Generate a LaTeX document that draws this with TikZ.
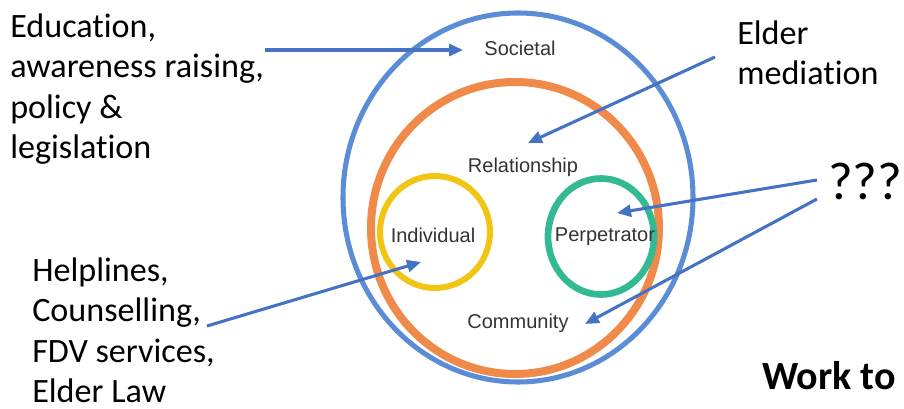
\documentclass[tikz,border=0pt]{standalone}
\usepackage{fontspec}
\usetikzlibrary{arrows.meta}
\newfontfamily\calfont[Ligatures=NoCommon]{Carlito}
\newfontfamily\arialfont{Liberation Sans}
\definecolor{arrowblue}{HTML}{4472C4}
\definecolor{ringblue}{HTML}{5B8DD6}
\definecolor{ringorange}{HTML}{F08A4B}
\definecolor{ringyellow}{HTML}{F2C413}
\definecolor{ringgreen}{HTML}{34BA92}
\definecolor{labelgray}{HTML}{333333}
\tikzset{
  bigtext/.style={inner sep=0pt, anchor=base west, align=left, font=\calfont\fontsize{25.6}{30.4}\selectfont},
  ringlabel/.style={inner sep=0pt, text=labelgray, font=\arialfont\fontsize{15}{18}\selectfont},
  pointer/.style={draw=arrowblue, line width=2.3pt, -{Triangle[length=10.5pt,width=9pt]}},
}
\begin{document}
\begin{tikzpicture}[x=0.75pt,y=-0.75pt]
\useasboundingbox (0,0) rectangle (904,409);
% rings
\draw[ringblue, line width=3.8pt] (518,197.5) ellipse [x radius=175, y radius=184.5];
\draw[ringorange, line width=6pt] (515,228) ellipse [x radius=144, y radius=146];
\draw[ringyellow, line width=4.5pt] (435,232) ellipse [x radius=55, y radius=56];
\draw[ringgreen, line width=5pt] (601,236.5) ellipse [x radius=53, y radius=58];
% ring labels
\node[ringlabel] (soc) at (520,48) {Societal};
\node[ringlabel] (rel) at (523,167) {Relationship};
\node[ringlabel] (ind) at (433,235) {Individual};
\node[ringlabel] (per) at (605,237) {Perpetrator};
\node[ringlabel] (com) at (518,323) {Community};
% side texts (base = last line's baseline)
\node[bigtext] (edu) at (10,159) {Education,\\awareness raising,\\policy \&\\legislation};
\node[bigtext] (eld) at (737,85) {Elder\\mediation};
\node[inner sep=0pt, anchor=base west, font=\calfont\fontsize{40}{48}\selectfont] (qqq) at (828,200) {???};
\node[bigtext] (hlp) at (32,403) {Helplines,\\Counselling,\\FDV services,\\Elder Law};
\node[inner sep=0pt, anchor=base west, font=\calfont\bfseries\fontsize{30}{36}\selectfont] (wrk) at (762,390) {Work to};
% connector ends
\coordinate (eduS) at (265,50);
\coordinate (socE) at (463,50);
\coordinate (eldS) at (715,57);
\coordinate (relE) at (528,143);
\coordinate (qS1) at (817,180);
\coordinate (perE) at (617,213);
\coordinate (qS2) at (817,199);
\coordinate (comE) at (585,324);
\coordinate (hlpS) at (207,326);
\coordinate (indE) at (421,262);
% connectors
\draw[pointer] (eduS) -- (socE);
\draw[pointer] (eldS) -- (relE);
\draw[pointer] (qS1) -- (perE);
\draw[pointer] (qS2) -- (comE);
\draw[pointer] (hlpS) -- (indE);
\end{tikzpicture}
\end{document}
